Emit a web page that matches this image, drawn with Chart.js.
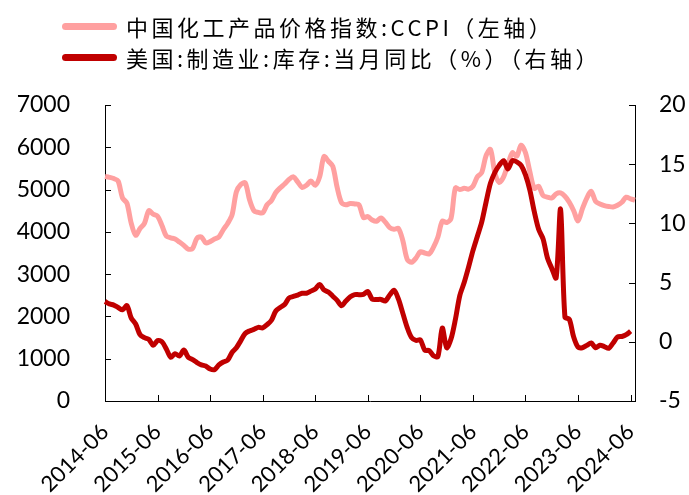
<!DOCTYPE html>
<html>
<head>
<meta charset="utf-8">
<script src="https://cdn.jsdelivr.net/npm/chart.js@4"></script>
<style>
  body { margin: 0; background: #fff; }
  #wrap { position: relative; width: 689px; height: 495px; }
  canvas { position: absolute; left: 0; top: 0; }
  .legend-row { position: absolute; left: 62px; height: 26px; display: flex; align-items: center;
    font-family: "Noto Sans CJK SC", sans-serif; font-size: 22px; letter-spacing: 3.5px; color: #000; white-space: nowrap; }
  .legend-line { width: 55px; height: 7px; border-radius: 4px; margin-right: 9px; }
</style>
</head>
<body>
<div id="wrap">
  <canvas id="chart" width="689" height="495"></canvas>
  <div class="legend-row" style="top:13px"><span class="legend-line" style="background:#FFA0A0"></span><span>中国化工产品价格指数:CCPI（左轴）</span></div>
  <div class="legend-row" style="top:44px"><span class="legend-line" style="background:#C00000"></span><span>美国:制造业:库存:当月同比（%）（右轴）</span></div>
</div>
<script>
// months 2014-06 .. 2024-07
const months = [];
for (let i = 0; i < 122; i++) {
    const y = 2014 + Math.floor((5 + i) / 12);
    const m = (5 + i) % 12 + 1;
    months.push(y + '-' + String(m).padStart(2, '0'));
}
const tickLabels = ['2014-06', '2015-06', '2016-06', '2017-06', '2018-06', '2019-06',
    '2020-06', '2021-06', '2022-06', '2023-06', '2024-06'];

// 中国化工产品价格指数 CCPI (left axis)
const ccpi = [
    5310, 5290, 5260, 5200, 4800, 4680, 4200, 3920, 4080, 4200, 4500, 4420,
    4370, 4150, 3900, 3860, 3830, 3760, 3680, 3590, 3610, 3850, 3880, 3740,
    3770, 3830, 3880, 4050, 4200, 4400, 4950, 5120, 5160, 4760, 4500, 4460,
    4450, 4640, 4740, 4930, 5040, 5130, 5240, 5300, 5180, 5050, 5100, 5200,
    5100, 5300, 5780, 5670, 5550, 5050, 4690, 4640, 4670, 4660, 4640, 4340,
    4360, 4280, 4250, 4330, 4230, 4100, 4060, 4080, 3790, 3350, 3280, 3380,
    3530, 3500, 3480, 3640, 3880, 4250, 4220, 4320, 5040, 5000, 5030, 5010,
    5080, 5300, 5400, 5800, 5950, 5400, 5170, 5300, 5600, 5870, 5790, 6050,
    5870, 5420, 5030, 5080, 4860, 4820, 4800, 4900, 4920, 4840, 4700, 4500,
    4260, 4550, 4800, 4960, 4720, 4660, 4620, 4600, 4590, 4630, 4700, 4820,
    4780, 4750
];

// 美国 制造业 库存 当月同比 % (right axis)
const usInv = [
    3.4, 3.2, 3.1, 2.9, 2.7, 3.05, 2.0, 1.5, 0.6, 0.35, 0.2, -0.3,
    0.1, 0.0, -0.6, -1.3, -1.0, -1.2, -0.7, -1.3, -1.5, -1.75, -1.95, -2.05,
    -2.3, -2.35, -1.95, -1.7, -1.55, -0.9, -0.5, 0.1, 0.7, 0.92, 1.05, 1.22,
    1.18, 1.45, 1.82, 2.6, 2.9, 3.15, 3.7, 3.83, 3.95, 4.1, 4.1, 4.28,
    4.46, 4.85, 4.38, 4.2, 3.85, 3.5, 3.05, 3.45, 3.8, 3.98, 3.98, 4.0,
    4.25, 3.6, 3.57, 3.58, 3.45, 3.95, 4.35, 3.6, 2.4, 1.2, 0.35, 0.12,
    0.15, -0.7, -0.74, -1.18, -1.24, 1.16, -0.5, 0.25, 1.9, 3.9, 5.0, 6.3,
    7.7, 8.9, 10.1, 11.8, 13.4, 14.3, 14.9, 15.3, 14.6, 15.3, 15.2, 14.9,
    14.1, 12.8, 11.0, 9.5, 8.7, 7.1, 6.2, 5.4, 11.2, 2.1, 1.9, 0.4,
    -0.45, -0.5, -0.3, -0.1, -0.5, -0.3, -0.4, -0.55, -0.1, 0.4, 0.45, 0.6,
    0.9, null
];

const axisFont = { family: 'Lato, "Open Sans", sans-serif', size: 23 };

// short tick marks pointing into the plot
const inwardTicks = {
    id: 'inwardTicks',
    afterDatasetsDraw(chart) {
        const ctx = chart.ctx;
        const { x, y, y1 } = chart.scales;
        const len = 6;
        ctx.save();
        ctx.strokeStyle = '#000';
        ctx.lineWidth = 1;
        ctx.beginPath();
        tickLabels.forEach(lbl => {
            const px = Math.round(x.getPixelForValue(months.indexOf(lbl))) + 0.5;
            ctx.moveTo(px, x.top);
            ctx.lineTo(px, x.top - len);
        });
        y.ticks.forEach(t => {
            const py = Math.round(y.getPixelForValue(t.value)) + 0.5;
            ctx.moveTo(y.right, py);
            ctx.lineTo(y.right + len, py);
        });
        y1.ticks.forEach(t => {
            const py = Math.round(y1.getPixelForValue(t.value)) + 0.5;
            ctx.moveTo(y1.left, py);
            ctx.lineTo(y1.left - len, py);
        });
        ctx.stroke();
        ctx.restore();
    }
};

new Chart(document.getElementById('chart'), {
    type: 'line',
    data: {
        labels: months,
        datasets: [
            {
                label: '中国化工产品价格指数:CCPI（左轴）',
                data: ccpi,
                yAxisID: 'y',
                borderColor: '#FFA0A0',
                borderWidth: 5,
                pointRadius: 0,
                tension: 0.3,
                order: 1
            },
            {
                label: '美国:制造业:库存:当月同比（%）（右轴）',
                data: usInv,
                yAxisID: 'y1',
                borderColor: '#C00000',
                borderWidth: 5,
                pointRadius: 0,
                tension: 0.3,
                order: 0
            }
        ]
    },
    options: {
        responsive: false,
        animation: false,
        devicePixelRatio: 1,
        layout: { padding: { top: 105, right: 0, left: 0, bottom: 0 } },
        plugins: { legend: { display: false }, tooltip: { enabled: false } },
        scales: {
            x: {
                grid: { display: false },
                border: { display: true, color: '#000', width: 1 },
                afterFit: s => { s.height = 94; },
                ticks: {
                    autoSkip: false,
                    maxRotation: 45,
                    minRotation: 45,
                    padding: 10,
                    color: '#000',
                    font: { family: axisFont.family, size: 22 },
                    callback: function (v, i) {
                        const l = months[i];
                        return l.endsWith('-06') ? l : null;
                    }
                }
            },
            y: {
                position: 'left',
                min: 0,
                max: 7000,
                grid: { display: false },
                border: { display: true, color: '#000', width: 1 },
                afterFit: s => { s.width = 105; },
                ticks: { stepSize: 1000, padding: 27, color: '#000', font: axisFont,
                    callback: v => String(v) }
            },
            y1: {
                position: 'right',
                min: -5,
                max: 20,
                grid: { display: false },
                border: { display: true, color: '#000', width: 1 },
                afterFit: s => { s.width = 54; },
                ticks: { stepSize: 5, padding: 16, color: '#000', font: axisFont,
                    callback: v => String(v) }
            }
        }
    },
    plugins: [inwardTicks]
});
</script>
</body>
</html>
